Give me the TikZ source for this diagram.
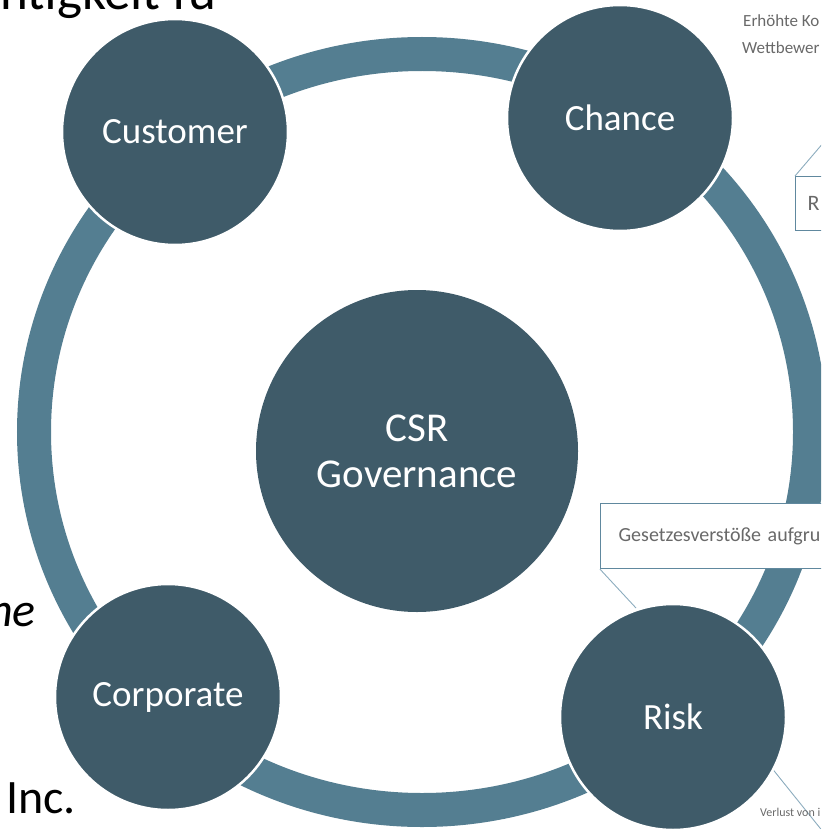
\documentclass[tikz,border=0pt]{standalone}
\usepackage{fontspec}
\setmainfont{Carlito}
\usepackage{xcolor}
\usetikzlibrary{positioning}
\definecolor{ringblue}{RGB}{84,126,145}
\definecolor{slatedark}{RGB}{63,91,105}
\definecolor{calloutline}{RGB}{96,136,158}
\definecolor{pointerline}{RGB}{140,172,190}
\definecolor{notegrey}{RGB}{105,105,105}

\begin{document}
\begin{tikzpicture}[x=1pt, y=-1pt,
    hub/.style={circle, fill=slatedark, draw=white, line width=2.5pt,
        text=white, minimum size=226pt, inner sep=0pt,
        font=\fontsize{37}{40}\selectfont},
    core/.style={circle, fill=slatedark, text=white, minimum size=322pt,
        inner sep=0pt, align=center, font=\fontsize{41}{46}\selectfont},
    ring/.style={draw=ringblue, line width=34pt},
    callout/.style={rectangle, draw=calloutline, line width=1.2pt,
        fill=white, text=notegrey, anchor=north west, align=left},
    pointer/.style={draw=pointerline, line width=0.9pt},
    note/.style={text=notegrey, inner sep=0pt, anchor=base west},
    cut/.style={text=black, inner sep=0pt, font=\fontsize{48}{52}\selectfont}
]
    \useasboundingbox (0,0) rectangle (821,829);
    \clip (0,0) rectangle (821,829);

    % Ring behind the circles
    \draw[ring] (422,432) ellipse [x radius=388pt, y radius=378pt];

    % Centre
    \node[core] (csr) at (417,451) {CSR\\Governance};

    % Outer circles
    \node[hub] (customer) at (175,132) {Customer};
    \node[hub] (chance) at (620,118) {Chance};
    \node[hub] (corporate) at (168,697) {Corporate};
    \node[hub] (risk) at (673,717) {Risk};

    % Callout boxes
    \node[callout, text width=240pt, minimum height=65pt, inner xsep=18pt,
        font=\fontsize{20}{24}\selectfont] (lawbox) at (600,503)
        {Gesetzesverstöße aufgru};
    \node[callout, text width=60pt, minimum height=54pt, inner xsep=12pt,
        font=\fontsize{22}{26}\selectfont] (rbox) at (795,176) {R};

    % Callout pointers
    \coordinate (rtip) at (824,142);
    \draw[pointer] (rbox.north west) -- (rtip);
    \coordinate (lawtip) at (636,608);
    \draw[pointer] (lawbox.south west) -- (lawtip);
    \coordinate (losstip) at (824,833);
    \draw[pointer] (risk.-28) -- (losstip);

    % Small notes
    \node[note, font=\fontsize{17}{20}\selectfont] (costs) at (743,27) {Erhöhte Ko};
    \node[note, font=\fontsize{17}{20}\selectfont] (rivals) at (742,54) {Wettbewer};
    \node[note, font=\fontsize{12}{14}\selectfont] (loss) at (760,816) {Verlust von i};

    % Cut-off text at the edges
    \node[cut, anchor=base west, font=\fontsize{53}{56}\selectfont] (topline)
        at (0,10) {ntigkeit fü};
    \node[cut, anchor=base east] (heline) at (36,626) {\itshape he};
    \node[cut, anchor=base west] (incline) at (6,813) {Inc.};
\end{tikzpicture}
\end{document}
